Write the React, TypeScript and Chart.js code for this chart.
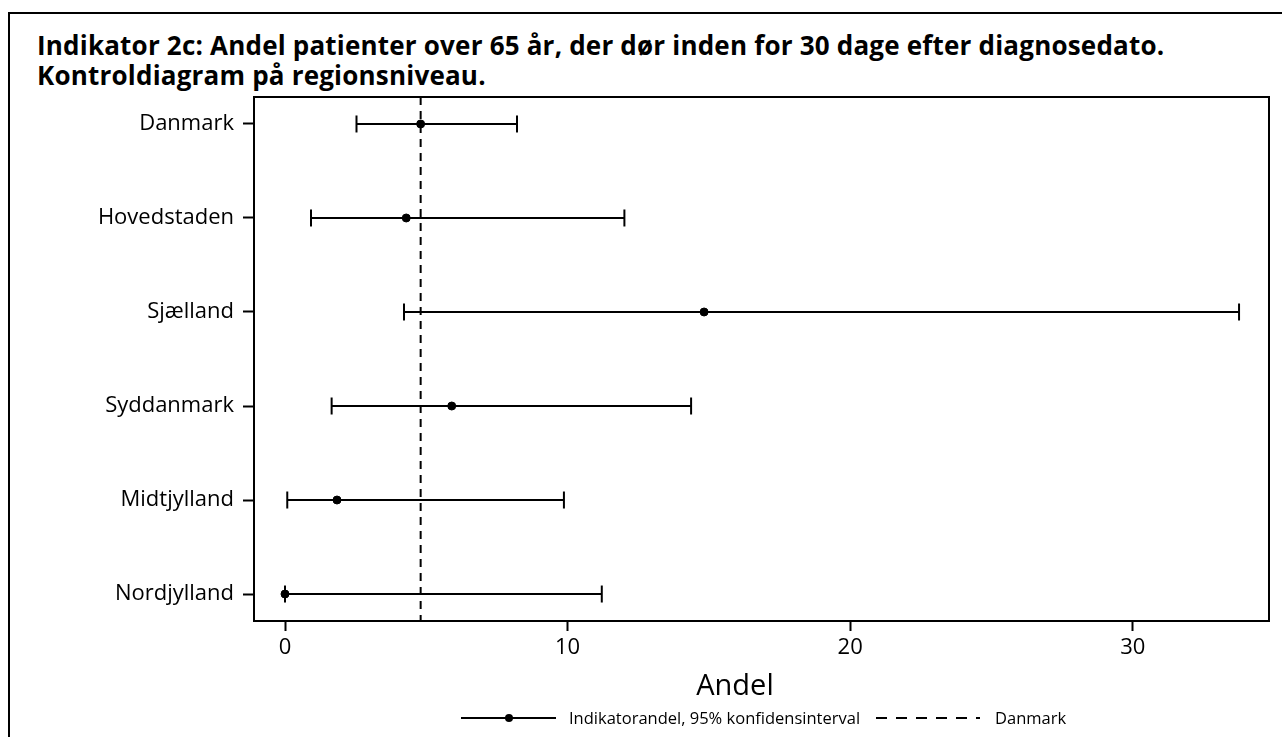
import React, { useEffect, useRef } from 'react';
import { Chart, registerables } from 'chart.js';

Chart.register(...registerables);

const regions = ['Danmark', 'Hovedstaden', 'Sjælland', 'Syddanmark', 'Midtjylland', 'Nordjylland'];
const estimates = [4.8, 4.29, 14.83, 5.9, 1.84, 0];
const lowerCI = [2.53, 0.92, 4.21, 1.65, 0.08, 0];
const upperCI = [8.21, 12.01, 33.76, 14.37, 9.87, 11.21];
const referenceValue = 4.8;
const xTicks = [0, 10, 20, 30];
const xMin = -1.097;
const xMax = 34.82;
const yMin = -0.287;
const yMax = 5.287;

const FONT = "'Open Sans', 'DejaVu Sans', sans-serif";

const framePlugin = {
  id: 'frame',
  afterDraw(chart: any) {
    const { ctx, chartArea } = chart;
    ctx.save();
    ctx.strokeStyle = '#000';
    ctx.lineWidth = 2;
    ctx.strokeRect(chartArea.left, chartArea.top, chartArea.right - chartArea.left, chartArea.bottom - chartArea.top);
    ctx.restore();
  },
};

export default function App() {
  const ref = useRef<HTMLCanvasElement | null>(null);

  useEffect(() => {
    if (!ref.current) return;
    const ciSets = regions.map((r, i) => ({
      label: r,
      data: [
        { x: lowerCI[i], y: i },
        { x: upperCI[i], y: i },
      ],
      showLine: true,
      borderColor: '#000',
      borderWidth: 2,
      pointStyle: 'line',
      rotation: 90,
      pointRadius: 8.5,
      pointBorderWidth: 2,
      pointBorderColor: '#000',
      pointBackgroundColor: '#000',
    }));
    const chart = new Chart(ref.current, {
      type: 'scatter',
      data: {
        datasets: [
          {
            label: 'Danmark ref',
            data: [
              { x: referenceValue, y: yMin },
              { x: referenceValue, y: yMax },
            ],
            showLine: true,
            borderColor: '#000',
            borderWidth: 2,
            borderDash: [8, 6],
            pointRadius: 0,
          },
          ...ciSets,
          {
            label: 'Indikatorandel',
            data: estimates.map((v, i) => ({ x: v, y: i })),
            pointRadius: 4,
            pointBackgroundColor: '#000',
            pointBorderColor: '#000',
            showLine: false,
          },
        ] as any,
      },
      options: {
        responsive: false,
        animation: false,
        layout: { padding: { left: 0, right: 13, top: 97, bottom: 40 } },
        plugins: { legend: { display: false }, tooltip: { enabled: false }, title: { display: false } },
        scales: {
          x: {
            type: 'linear',
            min: xMin,
            max: xMax,
            afterBuildTicks: (s: any) => {
              s.ticks = xTicks.map((v) => ({ value: v }));
            },
            afterFit: (s: any) => {
              s.height = 76;
            },
            grid: { drawOnChartArea: false, drawTicks: true, tickLength: 10, tickColor: '#000', tickWidth: 2 },
            border: { display: true, color: '#000', width: 2 },
            ticks: { color: '#000', font: { family: FONT, size: 22 }, padding: 4, maxRotation: 0 },
            title: { display: false },
          },
          y: {
            type: 'linear',
            reverse: true,
            min: yMin,
            max: yMax,
            afterBuildTicks: (s: any) => {
              s.ticks = regions.map((_, i) => ({ value: i }));
            },
            afterFit: (s: any) => {
              s.width = 254;
            },
            grid: { drawOnChartArea: false, drawTicks: true, tickLength: 11, tickColor: '#000', tickWidth: 2 },
            border: { display: true, color: '#000', width: 2 },
            ticks: {
              color: '#000',
              font: { family: FONT, size: 22 },
              padding: 9,
              callback: (v: any) => regions[v] ?? '',
            },
          },
        },
      } as any,
      plugins: [framePlugin],
    });
    return () => chart.destroy();
  }, []);

  const legendText = {
    position: 'absolute' as const,
    top: 707,
    fontFamily: FONT,
    fontSize: 16.5,
    lineHeight: '22px',
    color: '#000',
    whiteSpace: 'nowrap' as const,
  };

  return (
    <div style={{ position: 'fixed', left: 0, top: 0, width: 1282, height: 737, overflow: 'hidden', background: '#fff' }}>
      <div
        style={{
          position: 'absolute',
          left: 8,
          top: 12,
          width: 1400,
          height: 900,
          borderLeft: '2px solid #000',
          borderTop: '2px solid #000',
        }}
      />
      <div
        style={{
          position: 'absolute',
          left: 37,
          top: 30,
          fontFamily: FONT,
          fontWeight: 700,
          fontSize: 26,
          lineHeight: '30px',
          letterSpacing: '0.2px',
          color: '#000',
          whiteSpace: 'nowrap',
        }}
      >
        Indikator 2c: Andel patienter over 65 år, der dør inden for 30 dage efter diagnosedato.
        <br />
        Kontroldiagram på regionsniveau.
      </div>
      <canvas ref={ref} width={1282} height={737} style={{ position: 'absolute', left: 0, top: 0 }} />
      <div
        style={{
          position: 'absolute',
          left: 635,
          width: 200,
          top: 667,
          textAlign: 'center',
          fontFamily: FONT,
          fontSize: 29,
          lineHeight: '34px',
          color: '#000',
        }}
      >
        Andel
      </div>
      <div style={{ position: 'absolute', left: 461, top: 717, width: 95, height: 2, background: '#000' }} />
      <div style={{ position: 'absolute', left: 505, top: 714, width: 8, height: 8, borderRadius: 4, background: '#000' }} />
      <div style={{ ...legendText, left: 569 }}>Indikatorandel, 95% konfidensinterval</div>
      <div
        style={{
          position: 'absolute',
          left: 876,
          top: 717,
          width: 104,
          height: 2,
          background: 'repeating-linear-gradient(to right, #000 0px, #000 11px, transparent 11px, transparent 20px)',
        }}
      />
      <div style={{ ...legendText, left: 995 }}>Danmark</div>
    </div>
  );
}
